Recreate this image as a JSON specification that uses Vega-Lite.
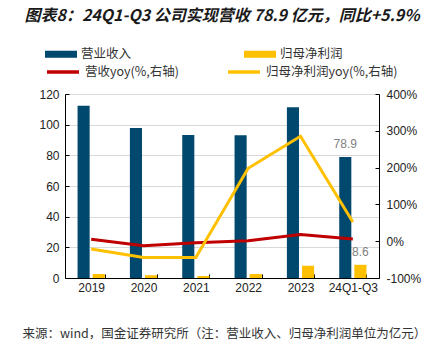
{
  "$schema": "https://vega.github.io/schema/vega-lite/v6.json",
  "width": 314,
  "height": 184,
  "autosize": {"type": "none"},
  "padding": {"left": 65, "top": 94, "right": 59, "bottom": 65},
  "background": "white",
  "title": {
    "text": "图表8：24Q1-Q3 公司实现营收 78.9 亿元，同比+5.9%",
    "font": "Noto Sans CJK SC",
    "fontSize": 16,
    "fontWeight": "bold",
    "fontStyle": "italic",
    "color": "#1a1a1a",
    "anchor": "middle",
    "offset": 14
  },
  "config": {"view": {"stroke": null}, "font": "Liberation Sans"},
  "datasets": {
    "bars": [
      {"year": "2019", "series": "营业收入", "value": 112.3},
      {"year": "2019", "series": "归母净利润", "value": 2.6},
      {"year": "2020", "series": "营业收入", "value": 97.9},
      {"year": "2020", "series": "归母净利润", "value": 1.8},
      {"year": "2021", "series": "营业收入", "value": 93.2},
      {"year": "2021", "series": "归母净利润", "value": 1.3},
      {"year": "2022", "series": "营业收入", "value": 93.1},
      {"year": "2022", "series": "归母净利润", "value": 2.6},
      {"year": "2023", "series": "营业收入", "value": 111.3},
      {"year": "2023", "series": "归母净利润", "value": 8.0},
      {"year": "24Q1-Q3", "series": "营业收入", "value": 78.9},
      {"year": "24Q1-Q3", "series": "归母净利润", "value": 8.6}
    ],
    "lines": [
      {"year": "2019", "series": "营收yoy(%,右轴)", "value": 5},
      {"year": "2020", "series": "营收yoy(%,右轴)", "value": -12.5},
      {"year": "2021", "series": "营收yoy(%,右轴)", "value": -4.5},
      {"year": "2022", "series": "营收yoy(%,右轴)", "value": 1},
      {"year": "2023", "series": "营收yoy(%,右轴)", "value": 18.5},
      {"year": "24Q1-Q3", "series": "营收yoy(%,右轴)", "value": 5.9},
      {"year": "2019", "series": "归母净利润yoy(%,右轴)", "value": -21},
      {"year": "2020", "series": "归母净利润yoy(%,右轴)", "value": -44},
      {"year": "2021", "series": "归母净利润yoy(%,右轴)", "value": -44},
      {"year": "2022", "series": "归母净利润yoy(%,右轴)", "value": 198},
      {"year": "2023", "series": "归母净利润yoy(%,右轴)", "value": 285},
      {"year": "24Q1-Q3", "series": "归母净利润yoy(%,右轴)", "value": 52}
    ]
  },
  "layer": [
    {
      "data": {"name": "bars"},
      "layer": [
        {
          "mark": {"type": "bar"},
          "encoding": {
            "x": {
              "field": "year",
              "type": "nominal",
              "sort": ["2019", "2020", "2021", "2022", "2023", "24Q1-Q3"],
              "scale": {"paddingInner": 0.48, "paddingOuter": 0.24},
              "axis": {
                "title": "来源：wind，国金证券研究所（注：营业收入、归母净利润单位为亿元）",
                "titleFont": "Noto Sans CJK SC",
                "titleFontSize": 12.5,
                "titleFontWeight": "normal",
                "titleColor": "#333333",
                "titleAnchor": "start",
                "titleAlign": "left",
                "titleBaseline": "middle",
                "titleX": -43,
                "titleY": 55,
                "labelAngle": 0,
                "labelFont": "Liberation Sans",
                "labelFontSize": 12,
                "labelColor": "#222222",
                "labelPadding": 8,
                "domainColor": "#000000",
                "tickColor": "#000000",
                "tickBand": "extent",
                "tickSize": -4
              }
            },
            "xOffset": {
              "field": "series",
              "type": "nominal",
              "sort": ["营业收入", "归母净利润"],
              "scale": {"paddingInner": 0.2}
            },
            "y": {
              "field": "value",
              "type": "quantitative",
              "scale": {"domain": [0, 120], "nice": false},
              "axis": {
                "title": null,
                "values": [0, 20, 40, 60, 80, 100, 120],
                "tickCount": 7,
                "labelOverlap": false,
                "grid": true,
                "gridColor": "#d9d9d9",
                "domainColor": "#000000",
                "tickColor": "#000000",
                "tickSize": -4,
                "labelFont": "Liberation Sans",
                "labelFontSize": 12,
                "labelColor": "#222222",
                "labelPadding": 10
              }
            },
            "fill": {
              "field": "series",
              "type": "nominal",
              "scale": {"domain": ["营业收入", "归母净利润"], "range": ["#00486e", "#ffc000"]},
              "legend": {
                "title": null,
                "orient": "none",
                "legendX": -20,
                "legendY": -56,
                "direction": "horizontal",
                "columns": 2,
                "columnPadding": 112,
                "padding": 0,
                "symbolType": "M-1,-0.22H1V0.22H-1Z",
                "symbolSize": 1024,
                "symbolStrokeWidth": 0,
                "labelFont": "Noto Sans CJK SC",
                "labelFontSize": 12.5,
                "labelColor": "#333333",
                "labelOffset": 4
              }
            }
          }
        },
        {
          "transform": [{"filter": "datum.year === '24Q1-Q3'"}],
          "mark": {"type": "text", "baseline": "alphabetic", "dy": -9, "fontSize": 12, "color": "#7f7f7f", "font": "Liberation Sans"},
          "encoding": {
            "x": {"field": "year", "type": "nominal", "sort": ["2019", "2020", "2021", "2022", "2023", "24Q1-Q3"]},
            "xOffset": {"field": "series", "type": "nominal", "sort": ["营业收入", "归母净利润"]},
            "y": {"field": "value", "type": "quantitative"},
            "text": {"field": "value", "type": "quantitative", "format": ".1f"}
          }
        }
      ]
    },
    {
      "data": {"name": "lines"},
      "mark": {"type": "line", "strokeWidth": 3},
      "encoding": {
        "x": {"field": "year", "type": "nominal", "sort": ["2019", "2020", "2021", "2022", "2023", "24Q1-Q3"]},
        "y": {
          "field": "value",
          "type": "quantitative",
          "scale": {"domain": [-100, 400], "nice": false},
          "axis": {
            "title": null,
            "orient": "right",
            "values": [-100, 0, 100, 200, 300, 400],
            "labelOverlap": false,
            "labelExpr": "datum.value + '%'",
            "grid": false,
            "domainColor": "#000000",
            "tickColor": "#000000",
            "tickSize": -4,
            "labelFont": "Liberation Sans",
            "labelFontSize": 12,
            "labelColor": "#222222",
            "labelPadding": 11
          }
        },
        "stroke": {
          "field": "series",
          "type": "nominal",
          "scale": {"domain": ["营收yoy(%,右轴)", "归母净利润yoy(%,右轴)"], "range": ["#c00000", "#ffc000"]},
          "legend": {
            "title": null,
            "orient": "none",
            "legendX": -20,
            "legendY": -40,
            "direction": "horizontal",
            "columns": 2,
            "columnPadding": 42,
            "padding": 0,
            "symbolType": "stroke",
            "symbolSize": 1024,
            "symbolStrokeWidth": 3.5,
            "labelFont": "Noto Sans CJK SC",
            "labelFontSize": 12.5,
            "labelColor": "#333333",
            "labelOffset": 4
          }
        }
      }
    }
  ],
  "resolve": {"scale": {"y": "independent"}}
}
